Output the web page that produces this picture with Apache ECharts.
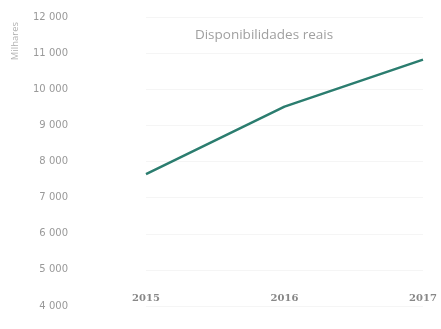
<!DOCTYPE html>
<html><head><meta charset="utf-8">
<script src="https://cdn.jsdelivr.net/npm/echarts@6/dist/echarts.min.js"></script>
<style>html,body{margin:0;padding:0;background:#fff}#c{width:441px;height:329px}</style>
</head><body><div id="c"></div>
<script>
var categories = ['2015', '2016', '2017'];
var values = [7650, 9520, 10820];
var titleText = 'Disponibilidades reais';
var yName = 'Milhares';

var chart = echarts.init(document.getElementById('c'), null, {renderer: 'canvas'});
chart.setOption({
  animation: false,
  title: {
    text: titleText, left: 259, top: 23, textAlign: 'center',
    textStyle: {color: '#a0a0a0', fontSize: 13.5, fontWeight: 'normal', fontFamily: 'Open Sans'}
  },
  graphic: [{
    type: 'text', left: 10, top: 22, rotation: Math.PI / 2,
    style: {text: yName, fill: '#b0b0b0', font: '9.5px "Open Sans"'}
  }],
  grid: {left: 146, right: 18, top: 17, bottom: 23},
  xAxis: {
    type: 'category', data: categories, boundaryGap: false,
    axisLine: {show: false}, axisTick: {show: false},
    splitLine: {show: false},
    axisLabel: {color: '#888', fontSize: 10, fontFamily: 'DejaVu Serif', fontWeight: 'bold', margin: -13}
  },
  yAxis: {
    type: 'value', min: 4000, max: 12000, interval: 1000,
    axisLine: {show: false}, axisTick: {show: false},
    splitLine: {lineStyle: {color: '#f5f5f5', width: 1}},
    axisLabel: {
      color: '#999', fontSize: 10, fontFamily: 'DejaVu Sans', margin: 78,
      formatter: function (v) { return String(v).replace(/\B(?=(\d{3})+(?!\d))/g, ' '); }
    }
  },
  series: [{
    type: 'line', data: values, symbol: 'none',
    lineStyle: {color: '#2b7d6f', width: 2.5}
  }]
});
</script></body></html>
